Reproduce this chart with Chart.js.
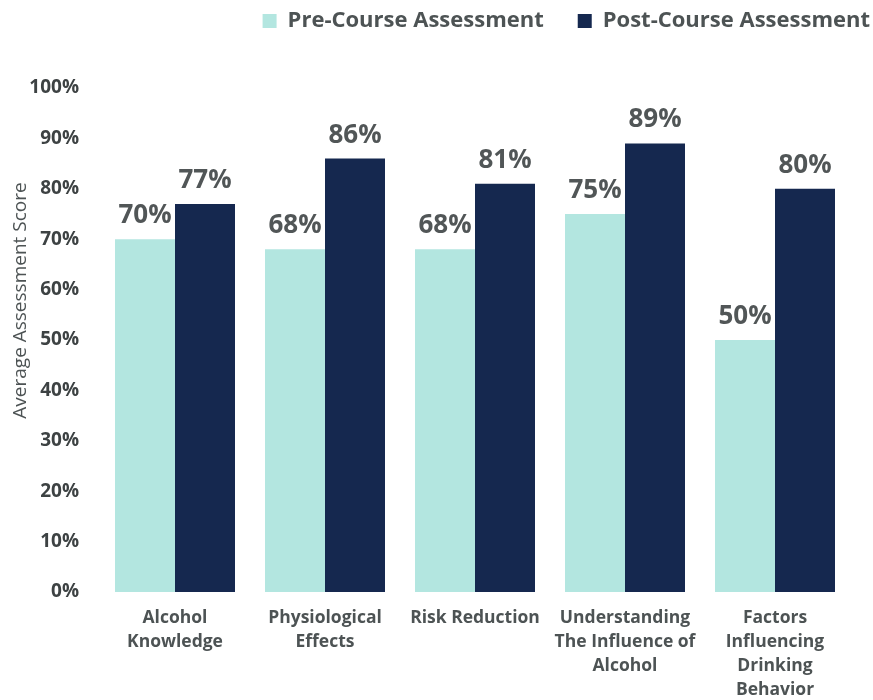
<!DOCTYPE html>
<html>
<head>
<meta charset="utf-8">
<script src="https://cdn.jsdelivr.net/npm/chart.js@4"></script>
<style>
  html, body { margin: 0; padding: 0; background: #fff; }
  #wrap { width: 873px; height: 700px; position: relative; }
</style>
</head>
<body>
<div id="wrap"><canvas id="chart"></canvas></div>
<script>
// dados
const categories = [
  ['Alcohol', 'Knowledge'],
  ['Physiological', 'Effects'],
  ['Risk Reduction'],
  ['Understanding', 'The Influence of', 'Alcohol'],
  ['Factors', 'Influencing', 'Drinking', 'Behavior']
];
const preCourse = [70, 68, 68, 75, 50];
const postCourse = [77, 86, 81, 89, 80];
const yTicks = [0, 10, 20, 30, 40, 50, 60, 70, 80, 90, 100];

const PRE_COLOR = '#b3e6e0';
const POST_COLOR = '#15284f';
const TEXT_COLOR = '#4d5354';

// rótulos de valor acima das barras
const valueLabels = {
  id: 'valueLabels',
  afterDatasetsDraw(chart) {
    const ctx = chart.ctx;
    ctx.save();
    ctx.font = 'bold 26px "Open Sans"';
    ctx.fillStyle = '#515657';
    ctx.textAlign = 'center';
    ctx.textBaseline = 'alphabetic';
    chart.data.datasets.forEach((ds, i) => {
      chart.getDatasetMeta(i).data.forEach((bar, j) => {
        ctx.fillText(ds.data[j] + '%', bar.x, bar.y - 16);
      });
    });
    ctx.restore();
  }
};

// altura fixa da legenda e deslocamento para a direita
const legendTweak = {
  id: 'legendTweak',
  beforeInit(chart) {
    const fit = chart.legend.fit;
    chart.legend.fit = function () {
      fit.bind(chart.legend)();
      this.height = 112;
    };
  },
  afterLayout(chart) {
    chart.legend.right += 54;
  }
};

const ctx = document.getElementById('chart').getContext('2d');
new Chart(ctx, {
  type: 'bar',
  data: {
    labels: categories,
    datasets: [
      { label: 'Pre-Course Assessment', data: preCourse, backgroundColor: PRE_COLOR },
      { label: 'Post-Course Assessment', data: postCourse, backgroundColor: POST_COLOR }
    ]
  },
  options: {
    responsive: true,
    maintainAspectRatio: false,
    animation: false,
    layout: { padding: { top: -24, right: 23, left: 9, bottom: 0 } },
    datasets: { bar: { categoryPercentage: 0.8, barPercentage: 1.0 } },
    plugins: {
      legend: {
        position: 'top',
        align: 'end',
        labels: {
          boxWidth: 14,
          boxHeight: 14,
          padding: 34,
          color: TEXT_COLOR,
          font: { family: 'Open Sans', size: 22, weight: 'bold' }
        }
      },
      tooltip: { enabled: false }
    },
    scales: {
      x: {
        afterFit(axis) { axis.height = 108; },
        grid: { display: false, drawTicks: false },
        border: { display: false },
        ticks: {
          color: TEXT_COLOR,
          maxRotation: 0,
          autoSkip: false,
          padding: 14,
          font: { family: 'Open Sans', size: 17.5, weight: 'bold', lineHeight: 1.37 }
        }
      },
      y: {
        min: 0,
        max: 100,
        afterBuildTicks(axis) {
          axis.ticks = yTicks.map(v => ({ value: v }));
        },
        afterFit(axis) { axis.width = 91; },
        grid: { display: false, drawTicks: false },
        border: { display: false },
        title: {
          display: true,
          // espaços à esquerda sobem o título, como no original
          text: '                Average Assessment Score',
          color: TEXT_COLOR,
          padding: { top: 0, bottom: 1 },
          font: { family: 'Open Sans', size: 19 }
        },
        ticks: {
          color: '#3d4243',
          padding: 21,
          callback: v => v + '%',
          font: { family: 'Open Sans', size: 19, weight: 'bold' }
        }
      }
    }
  },
  plugins: [valueLabels, legendTweak]
});
</script>
</body>
</html>
